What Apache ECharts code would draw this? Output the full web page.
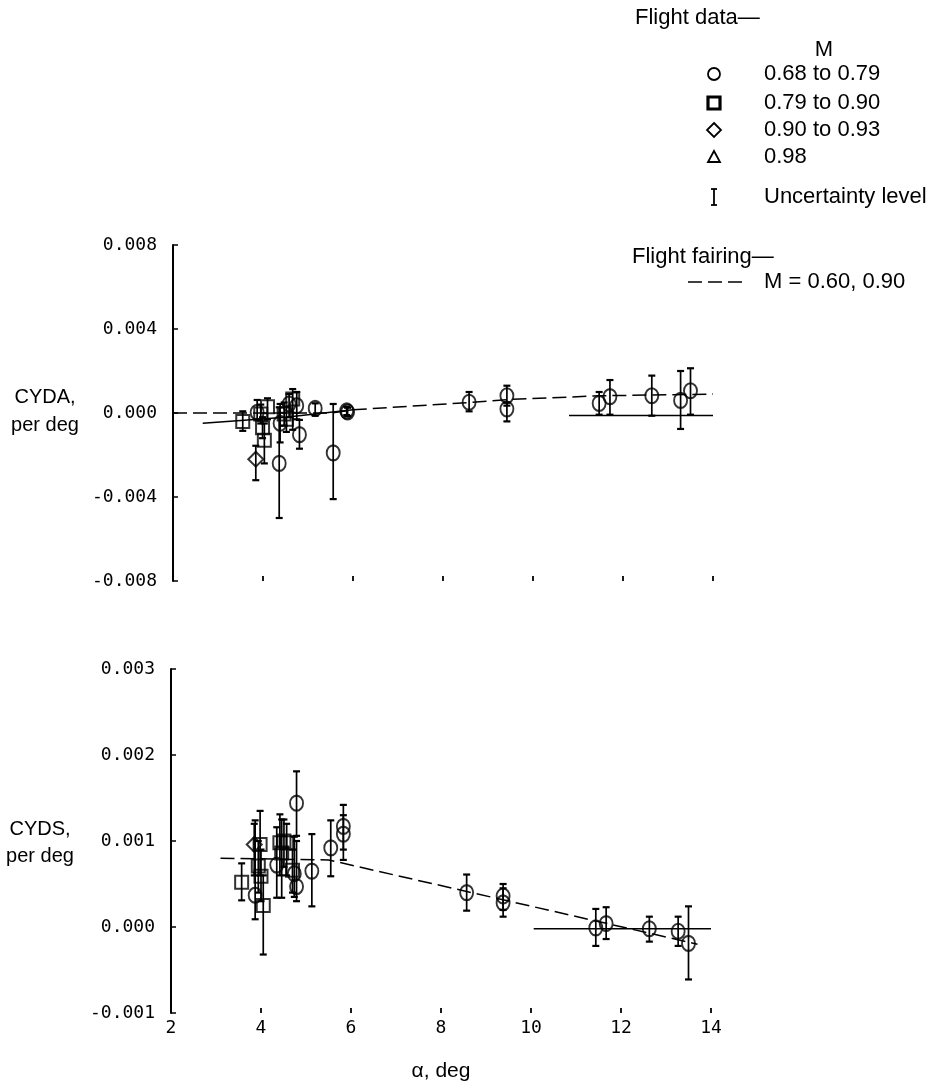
<!DOCTYPE html>
<html><head><meta charset="utf-8">
<script src="https://cdn.jsdelivr.net/npm/echarts@6/dist/echarts.min.js"></script>
<style>html,body{margin:0;padding:0;background:#fff}#c{width:942px;height:1083px}</style>
</head><body><div id="c"></div>
<script>
// Axis ranges [min, max, interval]
const alphaRange = [2, 14, 2];
const cydaRange = [-0.008, 0.008, 0.004];
const cydsRange = [-0.001, 0.003, 0.001];

// CYDA (top) flight data: [alpha, value, low, high]
const cydaCircles = [
  [3.87, 0.00003, -0.0003, 0.00062],
  [4.36, -0.0024, -0.0050, 0.00027],
  [4.38, -0.00049, -0.0014, 0.00043],
  [4.58, 0.00043, -0.0002, 0.0009],
  [4.75, 0.00035, -0.0003, 0.0010],
  [4.81, -0.00103, -0.0017, -0.00033],
  [5.16, 0.00022, -0.00013, 0.00046],
  [5.56, -0.0019, -0.0041, 0.00043],
  [5.86, 0.0001, -0.0001, 0.0003],
  [5.88, 0.00005, -0.00015, 0.00025],
  [8.58, 0.00051, 0.00008, 0.0010],
  [9.42, 0.00082, 0.00035, 0.0013],
  [9.42, 0.00019, -0.0004, 0.0005],
  [11.47, 0.00046, -0.00008, 0.0010],
  [11.71, 0.00078, -0.00008, 0.00157],
  [12.64, 0.00082, -0.00013, 0.00178],
  [13.28, 0.00060, -0.00076, 0.0020],
  [13.50, 0.00106, -0.00008, 0.00213]
];
const cydaSquares = [
  [3.55, -0.0004, -0.00085, 0.00008],
  [3.95, -0.00005, -0.0005, 0.0004],
  [3.99, -0.0007, -0.0012, -0.0002],
  [4.03, -0.0013, -0.0024, -0.0005],
  [4.10, 0.0003, -0.0003, 0.0007],
  [4.47, -0.00005, -0.0006, 0.0005],
  [4.52, -0.0003, -0.0009, 0.0003],
  [4.66, 0.00067, -0.0008, 0.00114]
];
const cydaDiamonds = [
  [3.84, -0.0022, -0.0032, -0.00156]
];
// CYDA fairings [alpha, value]
const cydaFairingDashed = [[2, 0], [3.5, 0], [5.5, 0], [6, 0.00015], [8.6, 0.0005], [9.5, 0.00065], [11.5, 0.00082], [14, 0.0009]];
const cydaFairingLow = [[2.66, -0.00049], [4.5, -0.0002], [6, 0.00015]];
const cydaFairingFlat = [[10.8, -0.00012], [14, -0.00012]];

// CYDS (bottom) flight data: [alpha, value, low, high]
const cydsCircles = [
  [3.87, 0.00037, 0.00009, 0.00124],
  [4.35, 0.00072, 0.00034, 0.00116],
  [4.74, 0.00062, 0.00035, 0.00105],
  [4.79, 0.00047, 0.0003, 0.0010],
  [4.79, 0.00144, 0.00106, 0.00181],
  [5.13, 0.00065, 0.00024, 0.00108],
  [5.55, 0.00092, 0.00059, 0.00124],
  [5.83, 0.00117, 0.0009, 0.00142],
  [5.83, 0.00108, 0.00078, 0.0013],
  [8.57, 0.00040, 0.00019, 0.00061],
  [9.38, 0.00036, 0.0002, 0.0005],
  [9.38, 0.00028, 0.00012, 0.00045],
  [11.44, -0.00001, -0.00022, 0.00021],
  [11.67, 0.00004, -0.00014, 0.00023],
  [12.63, -0.00002, -0.00017, 0.00012],
  [13.27, -0.00005, -0.00022, 0.00012],
  [13.50, -0.00019, -0.00061, 0.00024]
];
const cydsSquares = [
  [3.57, 0.00052, 0.00031, 0.00074],
  [3.94, 0.00071, 0.0004, 0.0010],
  [3.98, 0.00096, 0.0006, 0.00135],
  [4.00, 0.00059, 0.0003, 0.0009],
  [4.05, 0.00025, -0.00032, 0.0006],
  [4.42, 0.00098, 0.0006, 0.00131],
  [4.46, 0.00086, 0.00034, 0.00125],
  [4.51, 0.0010, 0.0007, 0.00125],
  [4.57, 0.00098, 0.0006, 0.0012],
  [4.70, 0.00066, 0.0004, 0.0009]
];
const cydsDiamonds = [
  [3.85, 0.00096, 0.0006, 0.0012]
];
const cydsFairingDashed = [[3.1, 0.0008], [5.5, 0.00078], [13.7, -0.0002]];
const cydsFairingFlat = [[10.06, -0.00002], [14, -0.00002]];

const BLACK = '#000';
const monoFont = 'DejaVu Sans Mono';
const sansFont = 'Liberation Sans';

function errRender(params, api) {
  const x = api.value(0), lo = api.value(1), hi = api.value(2);
  const a = api.coord([x, lo]), b = api.coord([x, hi]);
  const c = 3.5;
  return {
    type: 'group', children: [
      { type: 'line', shape: { x1: a[0], y1: a[1], x2: b[0], y2: b[1] }, style: { stroke: BLACK, lineWidth: 1.7 } },
      { type: 'line', shape: { x1: a[0] - c, y1: a[1], x2: a[0] + c, y2: a[1] }, style: { stroke: BLACK, lineWidth: 2.2 } },
      { type: 'line', shape: { x1: b[0] - c, y1: b[1], x2: b[0] + c, y2: b[1] }, style: { stroke: BLACK, lineWidth: 2.2 } }
    ]
  };
}

function errSeries(rows, idx) {
  return {
    type: 'custom', xAxisIndex: idx, yAxisIndex: idx, renderItem: errRender, z: 2, silent: true,
    encode: { x: 0, y: [1, 2] },
    data: rows.map(r => [r[0], r[2], r[3]])
  };
}
function ptSeries(rows, idx, symbol, size) {
  return {
    type: 'scatter', xAxisIndex: idx, yAxisIndex: idx, symbol: symbol, symbolSize: size, z: 3, silent: true,
    itemStyle: { color: 'rgba(255,255,255,0)', borderColor: BLACK, borderWidth: 2 },
    data: rows.map(r => [r[0], r[1]])
  };
}
function lineSeries(pts, idx, type) {
  return {
    type: 'line', xAxisIndex: idx, yAxisIndex: idx, showSymbol: false, silent: true, z: 1,
    lineStyle: { color: BLACK, width: 1.5, type: type },
    data: pts
  };
}

function yAxisCfg(idx, range) {
  return {
    type: 'value', gridIndex: idx, min: range[0], max: range[1], interval: range[2],
    splitLine: { show: false },
    axisLine: { show: true, onZero: false, lineStyle: { color: BLACK, width: 2 } },
    axisTick: { show: true, inside: true, length: 5, lineStyle: { color: BLACK, width: 1.5 } },
    axisLabel: { margin: 16, color: BLACK, fontFamily: monoFont, fontSize: 18, formatter: v => v.toFixed(3) }
  };
}
function xAxisCfg(idx, showLabels) {
  return {
    type: 'value', gridIndex: idx, min: alphaRange[0], max: alphaRange[1], interval: alphaRange[2],
    splitLine: { show: false },
    axisLine: { show: false, onZero: false },
    axisTick: { show: true, inside: true, length: 5, lineStyle: { color: BLACK, width: 1.8 } },
    axisLabel: { show: showLabels, margin: 6, color: BLACK, fontFamily: monoFont, fontSize: 18 },
    name: showLabels ? 'α, deg' : '', nameLocation: 'middle', nameGap: 48,
    nameTextStyle: { color: BLACK, fontFamily: sansFont, fontSize: 21 }
  };
}

const txt = (x, y, s, align, size) => ({
  type: 'text', x: x, y: y, silent: true,
  style: { text: s, fill: BLACK, font: (size || 20) + 'px "' + sansFont + '"', textAlign: align || 'left', textVerticalAlign: 'middle' }
});
const lnStyle = { stroke: BLACK, lineWidth: 1.8, fill: null };
const LG = 22;

const graphic = [
  txt(635, 18, 'Flight data—', 'left', LG),
  txt(824, 50, 'M', 'center', LG),
  { type: 'circle', shape: { cx: 714, cy: 74, r: 6 }, style: { stroke: BLACK, lineWidth: 1.8, fill: null } },
  { type: 'rect', shape: { x: 708, y: 97, width: 12, height: 12 }, style: { stroke: BLACK, lineWidth: 3.2, fill: null } },
  { type: 'polygon', shape: { points: [[714, 123], [721, 130], [714, 137], [707, 130]] }, style: lnStyle },
  { type: 'polygon', shape: { points: [[714, 151], [720, 162], [708, 162]] }, style: lnStyle },
  { type: 'line', shape: { x1: 714, y1: 189, x2: 714, y2: 205 }, style: lnStyle },
  { type: 'line', shape: { x1: 711, y1: 189, x2: 717, y2: 189 }, style: lnStyle },
  { type: 'line', shape: { x1: 711, y1: 205, x2: 717, y2: 205 }, style: lnStyle },
  txt(764, 74, '0.68 to 0.79', 'left', LG),
  txt(764, 103, '0.79 to 0.90', 'left', LG),
  txt(764, 130, '0.90 to 0.93', 'left', LG),
  txt(764, 157, '0.98', 'left', LG),
  txt(764, 197, 'Uncertainty level', 'left', LG),
  txt(632, 257, 'Flight fairing—', 'left', LG),
  { type: 'line', shape: { x1: 688, y1: 282, x2: 742, y2: 282 }, style: { stroke: BLACK, lineWidth: 1.5, lineDash: [14, 6] } },
  txt(764, 282, 'M = 0.60, 0.90', 'left', LG),
  txt(45, 397, 'CYDA,', 'center'),
  txt(45, 425, 'per deg', 'center'),
  txt(40, 829, 'CYDS,', 'center'),
  txt(40, 856, 'per deg', 'center')
];

const option = {
  backgroundColor: '#fff',
  animation: false,
  grid: [
    { left: 173, top: 245, width: 540, height: 336 },
    { left: 171, top: 669, width: 540, height: 344 }
  ],
  xAxis: [xAxisCfg(0, false), xAxisCfg(1, true)],
  yAxis: [yAxisCfg(0, cydaRange), yAxisCfg(1, cydsRange)],
  graphic: graphic,
  series: [
    lineSeries(cydaFairingDashed, 0, [14, 6]),
    lineSeries(cydaFairingLow, 0, 'solid'),
    lineSeries(cydaFairingFlat, 0, 'solid'),
    errSeries(cydaCircles, 0), errSeries(cydaSquares, 0), errSeries(cydaDiamonds, 0),
    ptSeries(cydaCircles, 0, 'circle', [13, 15]),
    ptSeries(cydaSquares, 0, 'rect', 13),
    ptSeries(cydaDiamonds, 0, 'diamond', 15),
    lineSeries(cydsFairingDashed, 1, [14, 6]),
    lineSeries(cydsFairingFlat, 1, 'solid'),
    errSeries(cydsCircles, 1), errSeries(cydsSquares, 1), errSeries(cydsDiamonds, 1),
    ptSeries(cydsCircles, 1, 'circle', [13, 15]),
    ptSeries(cydsSquares, 1, 'rect', 13),
    ptSeries(cydsDiamonds, 1, 'diamond', 15)
  ]
};
const chart = echarts.init(document.getElementById('c'), null, { renderer: 'canvas' });
chart.setOption(option);
</script></body></html>
